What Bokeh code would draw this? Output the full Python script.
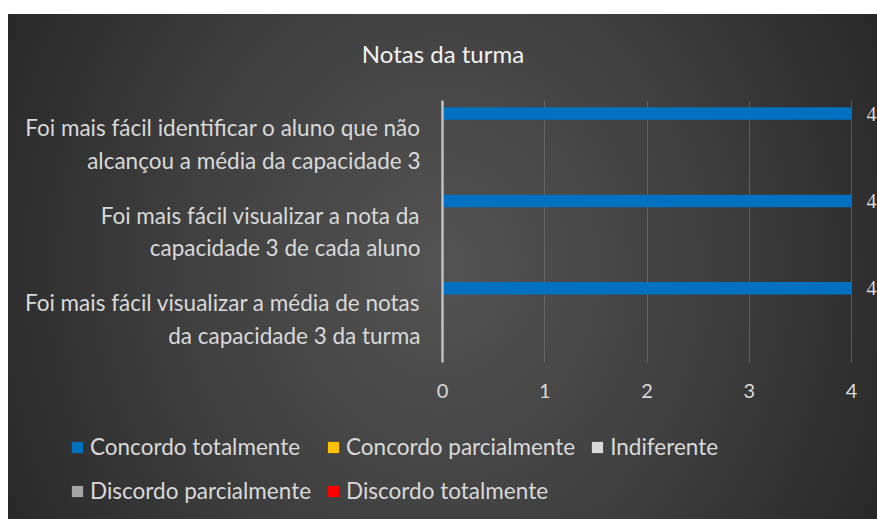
from bokeh.plotting import figure
from bokeh.layouts import column
from bokeh.models import ColumnDataSource, FactorRange, Legend, LegendItem, LabelSet, Range1d, FixedTicker
from bokeh.transform import dodge
from bokeh.embed import file_html
from bokeh.resources import INLINE

# ---- data ----
title_text = "Notas da turma"
categories = [
    "Foi mais fácil visualizar a média de notas\nda capacidade 3 da turma",
    "Foi mais fácil visualizar a nota da\ncapacidade 3 de cada aluno",
    "Foi mais fácil identificar o aluno que não\nalcançou a média da capacidade 3",
]
series_names = ["Concordo totalmente", "Concordo parcialmente", "Indiferente",
                "Discordo parcialmente", "Discordo totalmente"]
concordo_totalmente = [4, 4, 4]
concordo_parcialmente = [0, 0, 0]
indiferente = [0, 0, 0]
discordo_parcialmente = [0, 0, 0]
discordo_totalmente = [0, 0, 0]
x_ticks = [0, 1, 2, 3, 4]
series_colors = ["#0070C0", "#FFC000", "#D9D9D9", "#A6A6A6", "#FF0000"]

values = [concordo_totalmente, concordo_parcialmente, indiferente,
          discordo_parcialmente, discordo_totalmente]
keys = ["s0", "s1", "s2", "s3", "s4"]

data = {"cat": categories}
for k, v in zip(keys, values):
    data[k] = v
data["lbl"] = [str(v) for v in concordo_totalmente]
source = ColumnDataSource(data)

FONT = "Lato"
TXT = "#d9d9d9"

# ---- title strip ----
pt = figure(width=869, height=76, x_range=Range1d(0, 1), y_range=Range1d(0, 1),
            output_backend="svg", toolbar_location=None,
            min_border=0, x_axis_type=None, y_axis_type=None)
pt.frame_align = False
pt.border_fill_alpha = 0
pt.background_fill_alpha = 0
pt.outline_line_color = None
pt.grid.visible = False
pt.title.text = title_text
pt.title.align = "center"
pt.title.text_font = FONT
pt.title.text_font_size = "24px"
pt.title.text_font_style = "normal"
pt.title.text_color = "#f2f2f2"
pt.title.standoff = 44

# ---- main chart ----
p = figure(
    width=869, height=325,
    y_range=FactorRange(*categories, range_padding=0),
    x_range=Range1d(0, 4.254),
    output_backend="svg", toolbar_location=None,
    min_border_left=434, min_border_right=0, min_border_top=10, min_border_bottom=53,
)
p.frame_align = False
p.border_fill_alpha = 0
p.background_fill_alpha = 0
p.outline_line_color = None

bar_h = 0.143
offsets = [0.35, 0.207, 0.064, -0.079, -0.222]
for k, off, col in zip(keys, offsets, series_colors):
    p.hbar(y=dodge("cat", off, range=p.y_range), right=k, left=0, height=bar_h,
           source=source, fill_color=col, line_color=None)

labels = LabelSet(x="s0", y=dodge("cat", 0.35, range=p.y_range), text="lbl", source=source,
                  x_offset=15, text_baseline="middle", text_font_size="20px",
                  text_color=TXT, text_font=FONT)
p.add_layout(labels)

p.xaxis.ticker = FixedTicker(ticks=x_ticks)
p.xaxis.axis_line_color = None
p.xaxis.major_tick_line_color = None
p.xaxis.minor_tick_line_color = None
p.xaxis.major_label_text_font = FONT
p.xaxis.major_label_text_font_size = "20px"
p.xaxis.major_label_text_color = TXT
p.xaxis.major_label_standoff = 15

p.yaxis.axis_line_color = "#bfbfbf"
p.yaxis.axis_line_width = 2.5
p.yaxis.major_tick_line_color = None
p.yaxis.minor_tick_line_color = None
p.yaxis.major_label_text_font = FONT
p.yaxis.major_label_text_font_size = "22.5px"
p.yaxis.major_label_text_color = TXT
p.yaxis.major_label_standoff = 16

p.ygrid.grid_line_color = None
p.xgrid.grid_line_color = "#777777"
p.xgrid.grid_line_alpha = 0.6
p.xgrid.grid_line_width = 1

# ---- legend panel (separate figure below, same background) ----
p2 = figure(width=869, height=104, x_range=Range1d(100, 101),
            y_range=FactorRange(*categories),
            output_backend="svg", toolbar_location=None,
            min_border=0, x_axis_type=None, y_axis_type=None)
p2.frame_align = False
p2.border_fill_alpha = 0
p2.background_fill_alpha = 0
p2.outline_line_color = None
p2.grid.visible = False

leg_renderers = []
for k, col in zip(keys, series_colors):
    r = p2.hbar(y="cat", right=k, left=0, height=0, source=source,
                fill_color=col, line_color=None)
    leg_renderers.append(r)
items = [LegendItem(label=n, renderers=[r]) for n, r in zip(series_names, leg_renderers)]
legend = Legend(items=items, orientation="horizontal", ncols=3, location=(62, 14))
legend.background_fill_alpha = 0
legend.border_line_color = None
legend.label_text_font = FONT
legend.label_text_font_size = "22.5px"
legend.label_text_color = TXT
legend.glyph_width = 14
legend.glyph_height = 14
legend.label_standoff = 6
legend.spacing = 15
legend.label_height = 29
legend.padding = 8
legend.margin = 0
p2.add_layout(legend, "center")

layout = column(pt, p, p2, spacing=0)
layout.margin = (14, 0, 0, 8)
layout.styles = {"background": "radial-gradient(ellipse 58% 115% at 50% 50%, #535353 0%, #404040 50%, #272727 100%)"}

open("out.html", "w").write(file_html(layout, INLINE))
